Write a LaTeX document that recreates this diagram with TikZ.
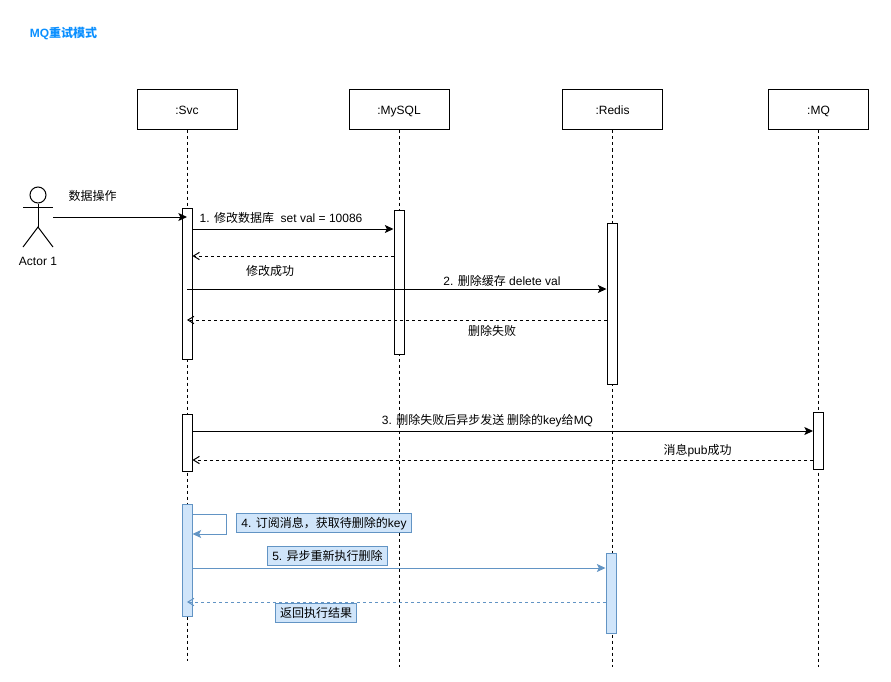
\documentclass[tikz,border=0pt]{standalone}
\usepackage{fontspec}
\setmainfont{Liberation Sans}
\newfontfamily\cjk{Noto Sans CJK SC}
\usetikzlibrary{arrows.meta}
\definecolor{TitleBlue}{HTML}{0A8FFF}
\definecolor{PaleBlue}{HTML}{D0E5FA}
\definecolor{EdgeBlue}{HTML}{6294C4}
\tikzset{
  every node/.style={font=\fontsize{9}{11}\selectfont, inner sep=0pt, text height=6.6pt, text depth=0pt},
  header/.style={rectangle, draw, line width=0.75pt, minimum width=75pt, minimum height=30pt},
  active/.style={rectangle, draw, fill=white, line width=0.75pt, minimum width=7.5pt},
  activeblue/.style={active, draw=EdgeBlue, fill=PaleBlue},
  note/.style={rectangle, draw=EdgeBlue, fill=PaleBlue, line width=0.75pt, minimum height=14.25pt, inner xsep=3.4pt},
  life/.style={line width=0.75pt, dash pattern=on 2.25pt off 2.25pt},
  call/.style={line width=0.75pt, -{Stealth[length=6.5pt, width=6pt, inset=1.5pt]}},
  reply/.style={line width=0.75pt, dash pattern=on 2.25pt off 2.25pt, -{Straight Barb[length=4.5pt, width=5.5pt]}},
}

\begin{document}
\begin{tikzpicture}[x=0.75pt, y=-0.75pt]
      \useasboundingbox (0, 0) rectangle (891, 681);

      \node (title) [text=TitleBlue, font=\fontsize{9}{11}\selectfont\bfseries] at (63.5, 33) {MQ{\cjk 重试模式}};

      % heads
      \node (svc) [header] at (187, 110) {:Svc};
      \node (mysql) [header] at (399, 110) {:MySQL};
      \node (redis) [header] at (612.5, 110) {:Redis};
      \node (mq) [header] at (818.5, 110) {:MQ};

      % lifelines
      \coordinate (svcEnd) at (187, 661);
      \coordinate (mysqlEnd) at (399, 667);
      \coordinate (redisEnd) at (612.5, 667);
      \coordinate (mqEnd) at (818.5, 667);
      \draw[life] (svc) -- (svcEnd);
      \draw[life] (mysql) -- (mysqlEnd);
      \draw[life] (redis) -- (redisEnd);
      \draw[life] (mq) -- (mqEnd);

      % actor
      \node (head) [circle, draw, line width=0.75pt, minimum size=12pt] at (38, 195) {};
      \coordinate (hip) at (38, 227);
      \coordinate (armL) at (23, 207);
      \coordinate (armR) at (53, 207);
      \coordinate (legL) at (23, 247);
      \coordinate (legR) at (53, 247);
      \draw[line width=0.75pt] (head) -- (hip);
      \draw[line width=0.75pt] (armL) -- (armR);
      \draw[line width=0.75pt] (legL) -- (hip) -- (legR);
      \node (actor) at (38, 261) {Actor 1};

      % activations
      \node (svcA) [active, minimum height=113.25pt] at (187, 283.5) {};
      \node (mysqlA) [active, minimum height=108pt] at (399, 282) {};
      \node (redisA) [active, minimum height=120.75pt] at (612, 303.5) {};
      \node (svcB) [active, minimum height=42.75pt] at (187, 442.5) {};
      \node (mqB) [active, minimum height=42.75pt] at (818.5, 440.5) {};
      \node (svcC) [activeblue, minimum height=84pt] at (187, 560) {};
      \node (redisC) [activeblue, minimum height=60pt] at (611, 593) {};

      % messages
      \draw[call] (armR |- 0, 217) -- (svc.south |- 0, 217);
      \draw[call] (svcA.east |- 0, 229) -- (mysqlA.west |- 0, 229);
      \draw[reply] (mysqlA.west |- 0, 256) -- (svcA.east |- 0, 256);
      \draw[call] (svc.south |- 0, 289) -- (redisA.west |- 0, 289);
      \draw[reply] (redisA.west |- 0, 320) -- (svc.south |- 0, 320);
      \draw[call] (svcB.east |- 0, 431) -- (mqB.west |- 0, 431);
      \draw[reply] (mqB.west |- 0, 460) -- (svcB.east |- 0, 460);
      \draw[call, draw=EdgeBlue] (svcC.east |- 0, 514) -- (226, 514) -- (226, 534) -- (svcC.east |- 0, 534);
      \draw[call, draw=EdgeBlue] (svcC.east |- 0, 568) -- (redisC.west |- 0, 568);
      \draw[reply, draw=EdgeBlue] (redisC.west |- 0, 602) -- (svc.south |- 0, 602);

      % labels
      \node (opLabel) at (92.5, 196) {\cjk 数据操作};
      \node (oneLabel) at (281, 218) {1. {\cjk 修改数据库}\ \ set val = 10086};
      \node (okLabel) at (270, 271) {\cjk 修改成功};
      \node (twoLabel) at (502, 281) {2. {\cjk 删除缓存} delete val};
      \node (failLabel) at (492, 331) {\cjk 删除失败};
      \node (threeLabel) at (487.5, 420) {3. {\cjk 删除失败后异步发送 删除的}key{\cjk 给}MQ};
      \node (pubLabel) at (697.5, 450) {{\cjk 消息}pub{\cjk 成功}};
      \node (fourLabel) [note] at (324, 523) {4. {\cjk 订阅消息，获取待删除的}key};
      \node (fiveLabel) [note] at (327.5, 556) {5. {\cjk 异步重新执行删除}};
      \node (backLabel) [note] at (316, 613) {\cjk 返回执行结果};
    \end{tikzpicture}
\end{document}
